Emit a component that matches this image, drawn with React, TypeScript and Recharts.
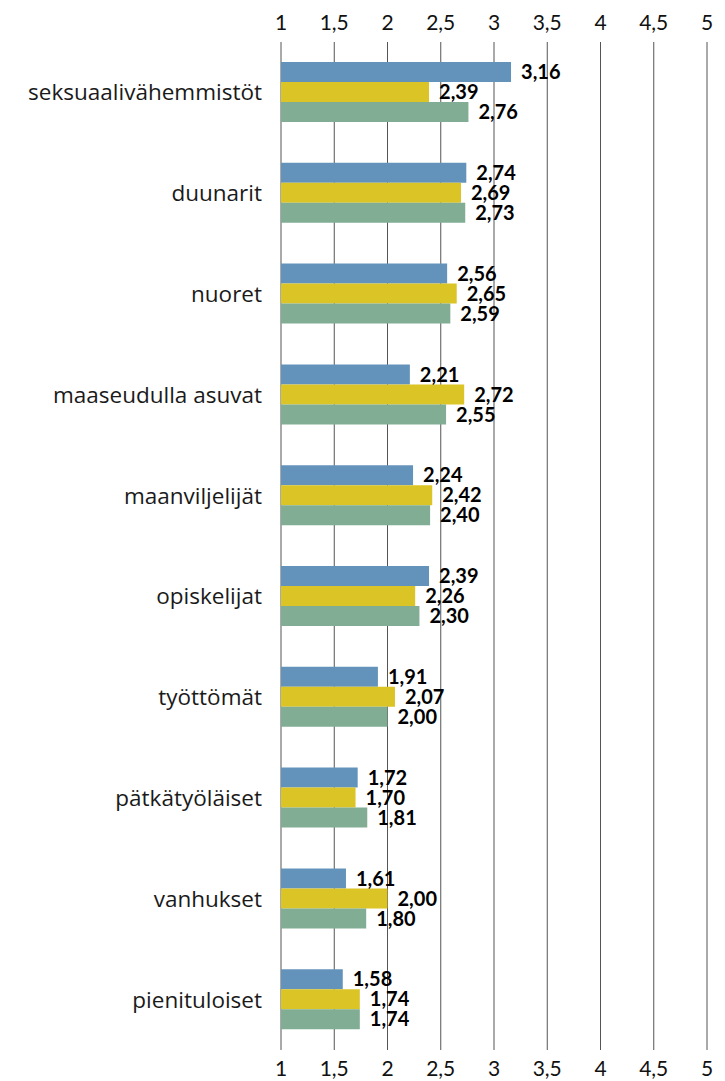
import { BarChart, Bar, XAxis, YAxis, CartesianGrid, LabelList } from 'recharts';

const categories = [
  'seksuaalivähemmistöt',
  'duunarit',
  'nuoret',
  'maaseudulla asuvat',
  'maanviljelijät',
  'opiskelijat',
  'työttömät',
  'pätkätyöläiset',
  'vanhukset',
  'pienituloiset',
];
const blueValues = [3.16, 2.74, 2.56, 2.21, 2.24, 2.39, 1.91, 1.72, 1.61, 1.58];
const yellowValues = [2.39, 2.69, 2.65, 2.72, 2.42, 2.26, 2.07, 1.7, 2.0, 1.74];
const greenValues = [2.76, 2.73, 2.59, 2.55, 2.4, 2.3, 2.0, 1.81, 1.8, 1.74];
const xTicks = [1, 1.5, 2, 2.5, 3, 3.5, 4, 4.5, 5];

const FONT = 'Lato, "Open Sans", sans-serif';

const data = categories.map((name, i) => ({
  name,
  blue: blueValues[i],
  yellow: yellowValues[i],
  green: greenValues[i],
}));

const fmtTick = (v: number) => String(v).replace('.', ',');
const fmtValue = (v: number) => Number(v).toFixed(2).replace('.', ',');

const labelStyle = { fontFamily: FONT, fontSize: 20, fontWeight: 700, fill: '#000' };

export default function App() {
  return (
    <div style={{ position: 'absolute', top: 0, left: 0, width: 725, height: 1081, background: '#fff' }}>
      <BarChart
        width={725}
        height={1081}
        data={data}
        layout="vertical"
        margin={{ top: 0, right: 18, bottom: 0, left: 0 }}
        barSize={20}
        barGap={0}
      >
        <CartesianGrid xAxisId="top" horizontal={false} stroke="#555" strokeWidth={1} />
        <XAxis
          xAxisId="top"
          orientation="top"
          type="number"
          domain={[1, 5]}
          allowDataOverflow
          ticks={xTicks}
          tickFormatter={fmtTick}
          height={42}
          tickLine={false}
          axisLine={false}
          tickMargin={6}
          interval={0}
          tick={{ fontFamily: FONT, fontSize: 21, fill: '#111' }}
        />
        <XAxis
          xAxisId="bottom"
          orientation="bottom"
          type="number"
          domain={[1, 5]}
          allowDataOverflow
          ticks={xTicks}
          tickFormatter={fmtTick}
          height={31}
          tickLine={false}
          axisLine={false}
          tickMargin={5}
          interval={0}
          tick={{ fontFamily: FONT, fontSize: 21, fill: '#111' }}
        />
        <YAxis
          type="category"
          dataKey="name"
          width={281}
          tickLine={false}
          axisLine={false}
          tickMargin={13}
          interval={0}
          tick={{ fontFamily: '"Open Sans", sans-serif', fontSize: 22.5, fill: '#1a1a1a' }}
        />
        <Bar xAxisId="top" dataKey="blue" fill="#6393bb" isAnimationActive={false}>
          <LabelList dataKey="blue" position="right" offset={10} formatter={fmtValue} style={labelStyle} />
        </Bar>
        <Bar xAxisId="top" dataKey="yellow" fill="#dbc425" isAnimationActive={false}>
          <LabelList dataKey="yellow" position="right" offset={10} formatter={fmtValue} style={labelStyle} />
        </Bar>
        <Bar xAxisId="top" dataKey="green" fill="#80ad94" isAnimationActive={false}>
          <LabelList dataKey="green" position="right" offset={10} formatter={fmtValue} style={labelStyle} />
        </Bar>
      </BarChart>
    </div>
  );
}
